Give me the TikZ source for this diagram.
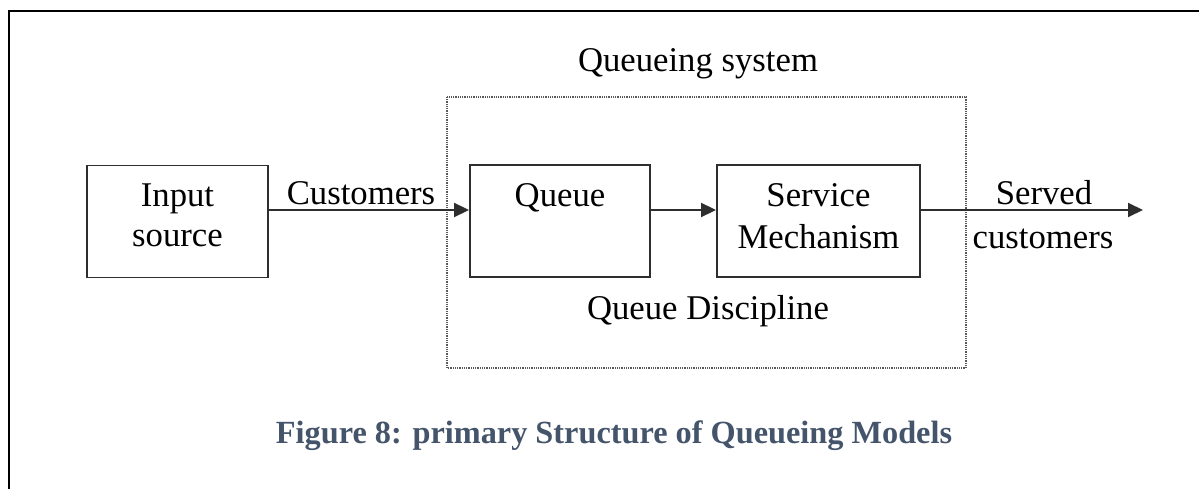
\documentclass[tikz,border=0pt]{standalone}
\usepackage{fontspec}
\setmainfont{Liberation Serif}
\usetikzlibrary{arrows.meta}
\definecolor{capblue}{HTML}{44546A}
\definecolor{boxline}{HTML}{2E2E2E}
\tikzset{
  blockbox/.style={draw=boxline, line width=1.9pt, minimum width=#1, inner sep=0pt, minimum height=112pt},
  lbl/.style={anchor=base, inner sep=0pt, font=\fontsize{34.7}{40}\selectfont},
  arr/.style={draw=boxline, line width=1.9pt, -{Triangle[length=15pt,width=14pt]}},
  sysframe/.style={draw=black!65, line width=1.2pt, dash pattern=on 1pt off 0.8pt},
}
\begin{document}
\begin{tikzpicture}[x=1pt,y=-1pt]
  \useasboundingbox (0,0) rectangle (1199,489);
  % page frame (top and left edges)
  \draw[line width=2pt] (9,489) -- (9,11) -- (1199,11);

  % queueing system frame
  \draw[sysframe] (447,97) rectangle (966,368);
  \node[lbl] (systitle) at (698,72) {Queueing system};
  \node[lbl] (discipline) at (708,319) {Queue Discipline};

  % blocks
  \node[blockbox=181pt] (input) at (177.5,221.5) {};
  \node[blockbox=180pt] (queue) at (560,221) {};
  \node[blockbox=203pt] (service) at (818.5,221) {};

  \node[lbl] (in1) at (177.5,207) {Input};
  \node[lbl] (in2) at (177.5,247) {source};
  \node[lbl] (qtxt) at (560,207) {Queue};
  \node[lbl] (sv1) at (818.5,207) {Service};
  \node[lbl] (sv2) at (818.5,248) {Mechanism};

  % flow line
  \coordinate (flow) at (0,210);
  \coordinate (outend) at (1143,210);
  \draw[arr] (input.east |- flow) -- (queue.west |- flow);
  \draw[arr] (queue.east |- flow) -- (service.west |- flow);
  \draw[arr] (service.east |- flow) -- (outend);

  \node[lbl] (cust) at (361,205) {Customers};
  \node[lbl] (served1) at (1044,205) {Served};
  \node[lbl] (served2) at (1043,248) {customers};

  % caption
  \node[anchor=base, inner sep=0pt, text=capblue, font=\bfseries\fontsize{32.3}{38}\selectfont] (caption) at (614,443) {Figure 8: primary Structure of Queueing Models};
\end{tikzpicture}
\end{document}
